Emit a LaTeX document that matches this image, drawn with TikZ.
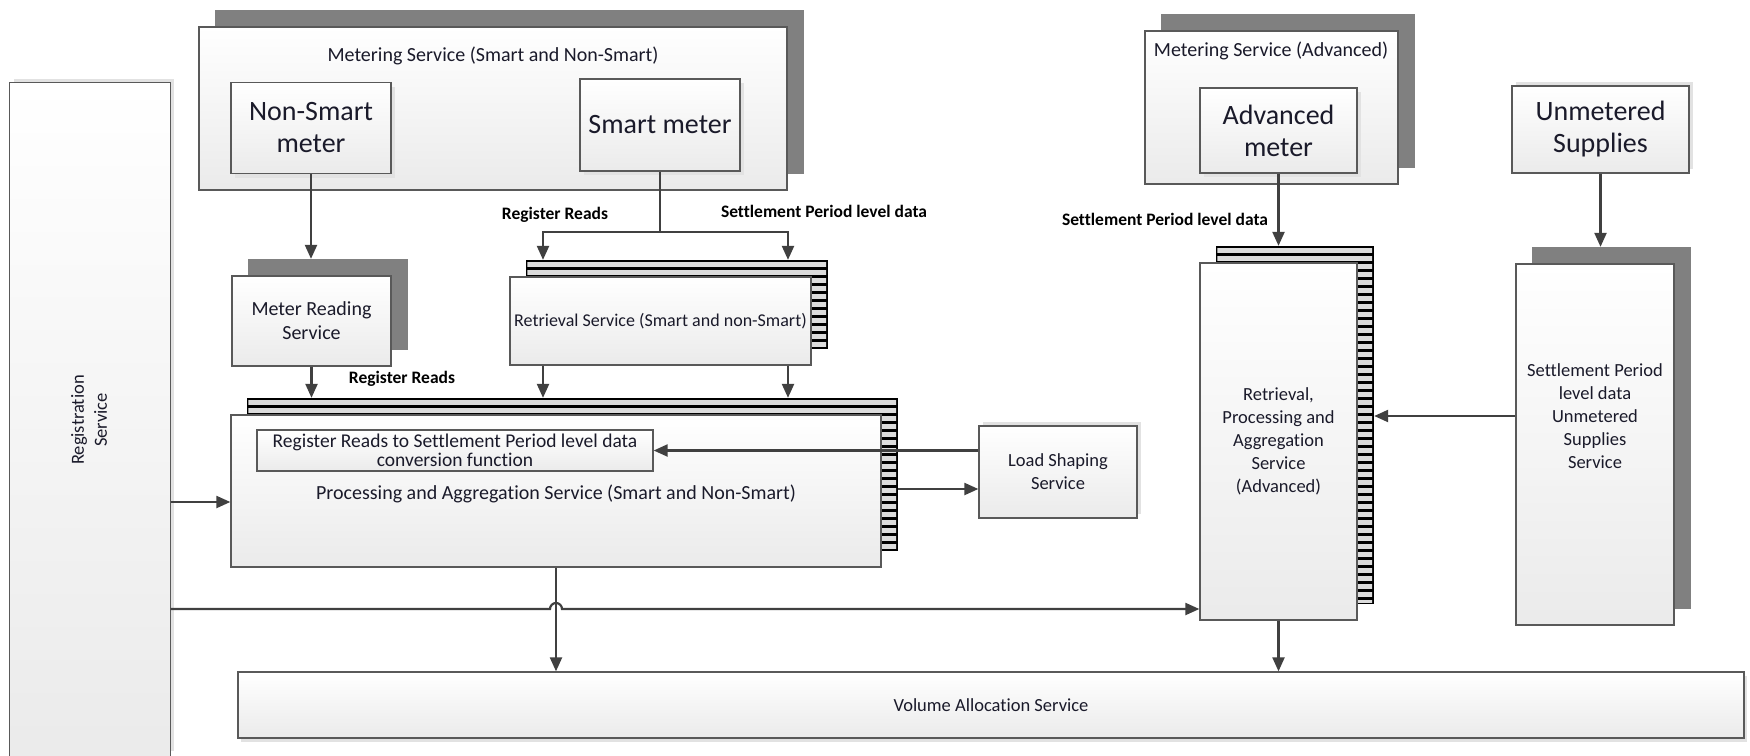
\documentclass[tikz,border=0pt]{standalone}
\usepackage{fontspec}
\setmainfont{Carlito}[Ligatures=NoCommon]
\usetikzlibrary{arrows.meta,calc}
\pgfdeclarelayer{bg}
\pgfsetlayers{bg,main}
\definecolor{edgegray}{HTML}{595959}
\definecolor{shadegray}{HTML}{808080}
\definecolor{arrowgray}{HTML}{404040}
\definecolor{textdark}{HTML}{1A1A2A}
\definecolor{stripegray}{HTML}{DCDCDC}
\definecolor{softgray}{HTML}{E2E2E2}
\tikzset{
  boxstyle/.style={rectangle, draw=edgegray, line width=1.3pt, top color=white, bottom color=black!8,
    inner sep=0pt, align=center, text=textdark, font=\fontsize{18.5}{23}\selectfont},
  bigtext/.style={font=\fontsize{28}{32}\selectfont},
  titletext/.style={font=\fontsize{20}{24}\selectfont},
  plaintext/.style={inner sep=0pt, align=center, text=textdark, font=\fontsize{18.5}{23}\selectfont},
  flowlabel/.style={inner sep=0pt, text=black, font=\bfseries\fontsize{17.5}{20}\selectfont},
  flowarrow/.style={draw=arrowgray, line width=2.2pt, -{Triangle[length=14pt,width=12pt]}},
}
% faint drop shadow: centre x, centre y, width, height, dx, dy
\newcommand\softbox[6]{%
  \fill[softgray] ({#1-#3/2+#5},{#2-#4/2+#6}) rectangle ({#1+#3/2+#5},{#2+#4/2+#6});}
\newcommand\greyback[1]{%
  \begin{pgfonlayer}{bg}
    \path ([shift={(16.5pt,16.5pt)}]#1.south west) coordinate (#1-bk-sw)
          ([shift={(16.5pt,16.5pt)}]#1.north east) coordinate (#1-bk-ne);
    \fill[shadegray] (#1-bk-sw) rectangle (#1-bk-ne);
  \end{pgfonlayer}}
\newcommand\stripeback[1]{%
  \begin{pgfonlayer}{bg}
    \path ([shift={(16.5pt,16.5pt)}]#1.south west) coordinate (#1-bk-sw)
          ([shift={(16.5pt,16.5pt)}]#1.north east) coordinate (#1-bk-ne);
    \fill[black] (#1-bk-sw) rectangle (#1-bk-ne);
    \begin{scope}
      \clip ([shift={(1.5pt,1.5pt)}]#1-bk-sw) rectangle ([shift={(-2pt,-1.5pt)}]#1-bk-ne);
      \foreach \k in {0,...,48} {
        \draw[stripegray, line width=5pt]
          ([yshift={-(4.5+8*\k)*1pt}]#1-bk-sw |- #1-bk-ne) -- ([yshift={-(4.5+8*\k)*1pt}]#1-bk-ne);
      }
    \end{scope}
  \end{pgfonlayer}}
\begin{document}
\begin{tikzpicture}[x=1pt,y=-1pt]
\useasboundingbox (0,0) rectangle (1750,755);
\begin{pgfonlayer}{bg}
  \fill[white] (0,0) rectangle (1750,755);
\end{pgfonlayer}

% Registration Service (runs off the bottom edge)
\softbox{90}{419}{160}{672}{4}{-4}
\node[boxstyle, draw=none, minimum width=160pt, minimum height=672pt] (reg) at (90,419) {};
\draw[edgegray, line width=1.3pt] (reg.south west) -- (reg.north west) -- (reg.north east) -- (reg.south east);
\node[plaintext, rotate=90] (regtxt) at (89,420) {Registration\\Service};

% Metering Service (Smart and Non-Smart)
\node[boxstyle, minimum width=588pt, minimum height=163pt] (msn) at (493,108.5) {};
\greyback{msn}
\node[plaintext, titletext] (msntxt) at (493,56) {Metering Service (Smart and Non-Smart)};
\softbox{311}{128}{160}{91}{4}{4}
\node[boxstyle, bigtext, minimum width=160pt, minimum height=91pt] (nsm) at (311,128) {Non-Smart\\meter};
\softbox{660}{125}{160}{92}{4}{4}
\node[boxstyle, bigtext, minimum width=160pt, minimum height=92pt] (sm) at (660,125) {Smart meter};

% Meter Reading Service
\node[boxstyle, titletext, minimum width=159pt, minimum height=90pt] (mrs) at (311.5,321) {Meter Reading\\Service};
\greyback{mrs}

% Retrieval Service
\node[boxstyle, font=\fontsize{18}{22}\selectfont, minimum width=301pt, minimum height=88pt] (ret) at (660.5,321) {Retrieval Service (Smart and non-Smart)};
\stripeback{ret}

% Processing and Aggregation Service
\node[boxstyle, minimum width=650pt, minimum height=152pt] (pas) at (556,491) {};
\stripeback{pas}
\node[plaintext, titletext] (pastxt) at (556,494) {Processing and Aggregation Service (Smart and Non-Smart)};
\node[boxstyle, font=\fontsize{19.5}{19.5}\selectfont, minimum width=396pt, minimum height=41pt] (conv) at (455,450.5)
  {Register Reads to Settlement Period level data\\conversion function};

% Load Shaping Service
\softbox{1058}{472}{158}{92}{4}{-4}
\node[boxstyle, minimum width=158pt, minimum height=92pt] (lss) at (1058,472) {Load Shaping\\Service};

% Metering Service (Advanced)
\node[boxstyle, minimum width=253pt, minimum height=153pt] (msa) at (1271.5,107.5) {};
\greyback{msa}
\node[plaintext, titletext] (msatxt) at (1271,51) {Metering Service (Advanced)};
\softbox{1278.5}{130.5}{157}{85}{4}{4}
\node[boxstyle, bigtext, minimum width=157pt, minimum height=85pt] (am) at (1278.5,130.5) {Advanced\\meter};

% Unmetered Supplies
\softbox{1600.5}{129.5}{177}{87}{4}{-4}
\node[boxstyle, bigtext, minimum width=177pt, minimum height=87pt] (us) at (1600.5,129.5) {Unmetered\\Supplies};

% Retrieval, Processing and Aggregation Service (Advanced)
\node[boxstyle, minimum width=157pt, minimum height=357pt] (rpa) at (1278.5,441.5) {Retrieval,\\Processing and\\Aggregation\\Service\\(Advanced)};
\stripeback{rpa}

% Settlement Period level data Unmetered Supplies Service
\node[boxstyle, minimum width=158pt, minimum height=361pt] (spus) at (1595,444.5) {};
\greyback{spus}
\node[plaintext] (spustxt) at (1595,416) {Settlement Period\\level data\\Unmetered\\Supplies\\Service};

% Volume Allocation Service
\softbox{991}{705}{1506}{66}{3}{4}
\node[boxstyle, minimum width=1506pt, minimum height=66pt] (vas) at (991,705) {Volume Allocation Service};

% helper coordinates
\coordinate (jL) at (543,232);
\coordinate (jR) at (788,232);
\coordinate (lsin) at (979,489);
\coordinate (r1) at (0,502);
\coordinate (r2) at (0,609);
\coordinate (spusy) at (0,416);

% connectors
\draw[flowarrow] (nsm.south) -- (nsm.south |- mrs-bk-ne);
\draw[flowarrow] (sm.south) |- (jL) -- (jL |- ret-bk-ne);
\draw[flowarrow] (sm.south |- jL) -- (jR) -- (jR |- ret-bk-ne);
\draw[flowarrow] (mrs.south) -- (mrs.south |- pas-bk-ne);
\draw[flowarrow] (jL |- ret.south) -- (jL |- pas-bk-ne);
\draw[flowarrow] (jR |- ret.south) -- (jR |- pas-bk-ne);
\draw[flowarrow] (lss.west |- conv.east) -- (conv.east);
\draw[flowarrow] (pas-bk-ne |- lsin) -- (lss.west |- lsin);
\draw[flowarrow] (reg.east |- r1) -- (pas.west |- r1);
\draw[flowarrow] (reg.east |- r2) -- ($(pas.south |- r2)+(-6pt,0pt)$) arc (180:0:6pt) -- (rpa.west |- r2);
\draw[flowarrow] (pas.south) -- (pas.south |- vas.north);
\draw[flowarrow] (am.south) -- (am.south |- rpa-bk-ne);
\draw[flowarrow] (us.south) -- (us.south |- spus-bk-ne);
\draw[flowarrow] (spus.west |- spusy) -- (rpa-bk-ne |- spusy);
\draw[flowarrow] (rpa.south) -- (rpa.south |- vas.north);

% labels
\node[flowlabel] (lab1) at (555,215) {Register Reads};
\node[flowlabel] (lab2) at (824,211) {Settlement Period level data};
\node[flowlabel] (lab3) at (1165,219) {Settlement Period level data};
\node[flowlabel] (lab4) at (402,379) {Register Reads};
\end{tikzpicture}
\end{document}
